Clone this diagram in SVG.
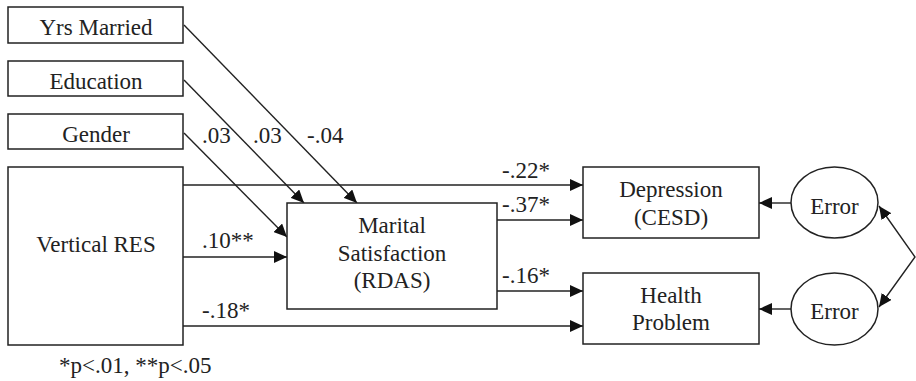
<svg xmlns="http://www.w3.org/2000/svg" width="916" height="381" viewBox="0 0 916 381">
<defs>
<marker id="ah" markerUnits="userSpaceOnUse" markerWidth="14" markerHeight="12" viewBox="0 0 14 12" refX="13" refY="6" orient="auto-start-reverse">
<path d="M0,0 L13,6 L0,12 Z" fill="#111"/>
</marker>
</defs>
<style>
.box{fill:#fff;stroke:#222;stroke-width:1.5}
.t{font-size:23px;fill:#222;text-anchor:middle}
.l{font-size:23px;fill:#222}
.c{fill:none;stroke:#222;stroke-width:1.4;marker-end:url(#ah)}
</style>
<rect width="916" height="381" fill="#fff"/>
<g id="connectors">
<line class="c" x1="184" y1="25" x2="357" y2="203"/>
<line class="c" x1="184" y1="80" x2="304" y2="203"/>
<line class="c" x1="184" y1="133" x2="287" y2="237"/>
<line class="c" x1="183" y1="185" x2="583" y2="185"/>
<line class="c" x1="183" y1="257" x2="287" y2="257"/>
<line class="c" x1="183" y1="326" x2="583" y2="326"/>
<line class="c" x1="497" y1="220" x2="583" y2="220"/>
<line class="c" x1="497" y1="291" x2="583" y2="291"/>
<line class="c" x1="791" y1="203" x2="759" y2="203"/>
<line class="c" x1="791" y1="309" x2="759" y2="309"/>
<polyline class="c" style="marker-start:url(#ah)" points="879,206 915,257 879,307"/>
</g>
<g font-family="'Liberation Serif', 'DejaVu Serif', serif">
<g id="yrs-married"><rect class="box" x="8" y="7" width="175" height="36"/><text class="t" x="96" y="35">Yrs Married</text></g>
<g id="education"><rect class="box" x="8" y="61" width="175" height="35"/><text class="t" x="96" y="89">Education</text></g>
<g id="gender"><rect class="box" x="8" y="114" width="175" height="35"/><text class="t" x="96" y="142">Gender</text></g>
<g id="vertical-res"><rect class="box" x="8" y="167" width="175" height="178"/><text class="t" x="96" y="252">Vertical RES</text></g>
<g id="marital"><rect class="box" x="287" y="203" width="210" height="106"/><text class="t" x="392" y="233">Marital</text><text class="t" x="392" y="261">Satisfaction</text><text class="t" x="392" y="288">(RDAS)</text></g>
<g id="depression"><rect class="box" x="583" y="167" width="176" height="71"/><text class="t" x="671" y="197">Depression</text><text class="t" x="671" y="225">(CESD)</text></g>
<g id="health"><rect class="box" x="583" y="273" width="176" height="71"/><text class="t" x="671" y="303">Health</text><text class="t" x="671" y="330">Problem</text></g>
<g id="error1"><ellipse class="box" cx="834.5" cy="202.5" rx="43.5" ry="35.5"/><text class="t" x="834.5" y="214">Error</text></g>
<g id="error2"><ellipse class="box" cx="834.5" cy="309" rx="43.5" ry="36"/><text class="t" x="834.5" y="319">Error</text></g>
<g id="labels">
<text class="l" x="202" y="143">.03</text>
<text class="l" x="253" y="143">.03</text>
<text class="l" x="307" y="143">-.04</text>
<text class="l" x="202" y="248">.10**</text>
<text class="l" x="202" y="318">-.18*</text>
<text class="l" x="502" y="178">-.22*</text>
<text class="l" x="502" y="212">-.37*</text>
<text class="l" x="502" y="283">-.16*</text>
<text class="l" x="59" y="373">*p&lt;.01, **p&lt;.05</text>
</g>
</g>
</svg>
